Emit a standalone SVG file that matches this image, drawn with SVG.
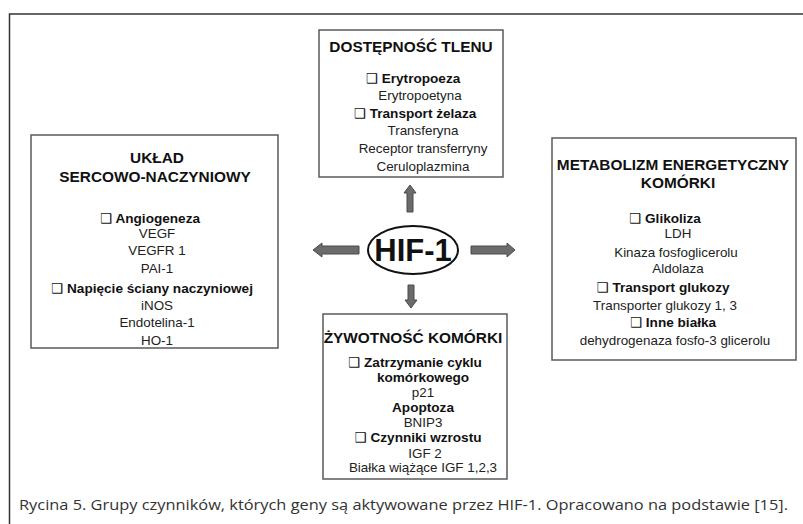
<svg xmlns="http://www.w3.org/2000/svg" width="803" height="524" viewBox="0 0 803 524">
<style>
.box{fill:#fff;stroke:#5a5a5a;stroke-width:1.5}
.t{font-family:"Liberation Sans",Arial,sans-serif;font-size:15.4px;font-weight:bold;fill:#111;text-anchor:middle}
.b{font-family:"Liberation Sans",Arial,sans-serif;font-size:13.6px;font-weight:bold;fill:#111;text-anchor:middle}
.n{font-family:"Liberation Sans",Arial,sans-serif;font-size:13.4px;fill:#222;text-anchor:middle}
.sq{font-family:"DejaVu Sans",sans-serif;font-weight:normal}
.arr{fill:#6b6b6b;stroke:#4a4a4a;stroke-width:1}
.cap{font-family:"Open Sans","Noto Sans",sans-serif;font-size:14px;fill:#333}
</style>
<path d="M9.5 524 V14 H803" fill="none" stroke="#333" stroke-width="1.5"/>
<g id="connectors">
<polygon class="arr" points="407,212 407,193 404,193 410,185 416,193 413,193 413,212"/>
<polygon class="arr" points="359,246 322,246 322,243 313,250 322,257 322,254 359,254"/>
<polygon class="arr" points="471,246 507,246 507,243 515,250 507,257 507,254 471,254"/>
<polygon class="arr" points="408,285 408,300 405,300 411,308 417,300 414,300 414,285"/>
</g>
<g id="hif">
<ellipse cx="413" cy="250" rx="45" ry="24" fill="#fff" stroke="#111" stroke-width="2"/>
<text x="413" y="261" font-family="Liberation Sans,Arial,sans-serif" font-size="31" font-weight="bold" text-anchor="middle" fill="#111">HIF-1</text>
</g>
<g id="tlen">
<rect class="box" x="319" y="30" width="184" height="147"/>
<text class="t" x="411" y="52">DOSTĘPNOŚĆ  TLENU</text>
<text class="b" x="413" y="83"><tspan class="sq">❑</tspan> Erytropoeza</text>
<text class="n" x="420" y="100">Erytropoetyna</text>
<text class="b" x="415" y="118"><tspan class="sq">❑</tspan> Transport żelaza</text>
<text class="n" x="423" y="135">Transferyna</text>
<text class="n" x="423" y="153">Receptor transferryny</text>
<text class="n" x="423" y="171">Ceruloplazmina</text>
</g>
<g id="uklad">
<rect class="box" x="31" y="135" width="247" height="213"/>
<text class="t" x="157" y="163">UKŁAD</text>
<text class="t" x="155" y="182">SERCOWO-NACZYNIOWY</text>
<text class="b" x="150" y="223"><tspan class="sq">❑</tspan> Angiogeneza</text>
<text class="n" x="157" y="238">VEGF</text>
<text class="n" x="157" y="255">VEGFR 1</text>
<text class="n" x="157" y="273">PAI-1</text>
<text class="b" x="152" y="293"><tspan class="sq">❑</tspan> Napięcie ściany naczyniowej</text>
<text class="n" x="157" y="310">iNOS</text>
<text class="n" x="157" y="327">Endotelina-1</text>
<text class="n" x="157" y="345">HO-1</text>
</g>
<g id="metabolizm">
<rect class="box" x="552" y="138" width="244" height="222"/>
<text class="t" x="673" y="170">METABOLIZM ENERGETYCZNY</text>
<text class="t" x="678" y="188">KOMÓRKI</text>
<text class="b" x="665" y="223"><tspan class="sq">❑</tspan> Glikoliza</text>
<text class="n" x="678" y="238">LDH</text>
<text class="n" x="676" y="257">Kinaza  fosfoglicerolu</text>
<text class="n" x="678" y="273">Aldolaza</text>
<text class="b" x="663" y="292"><tspan class="sq">❑</tspan> Transport glukozy</text>
<text class="n" x="665" y="310">Transporter  glukozy  1, 3</text>
<text class="b" x="673" y="327"><tspan class="sq">❑</tspan> Inne białka</text>
<text class="n" x="675" y="345">dehydrogenaza  fosfo-3 glicerolu</text>
</g>
<g id="zywotnosc">
<rect class="box" x="323" y="314" width="184" height="165"/>
<text class="t" x="413" y="343">ŻYWOTNOŚĆ  KOMÓRKI</text>
<text class="b" x="415" y="367"><tspan class="sq">❑</tspan> Zatrzymanie cyklu</text>
<text class="b" x="423" y="382">komórkowego</text>
<text class="n" x="423" y="397">p21</text>
<text class="b" x="423" y="412">Apoptoza</text>
<text class="n" x="423" y="427">BNIP3</text>
<text class="b" x="418" y="442"><tspan class="sq">❑</tspan> Czynniki wzrostu</text>
<text class="n" x="425" y="458">IGF 2</text>
<text class="n" x="423" y="472">Białka wiążące IGF 1,2,3</text>
</g>
<text class="cap" x="19" y="510" textLength="769" lengthAdjust="spacingAndGlyphs">Rycina 5. Grupy czynników, których geny są aktywowane przez HIF-1. Opracowano na podstawie [15].</text>
</svg>
